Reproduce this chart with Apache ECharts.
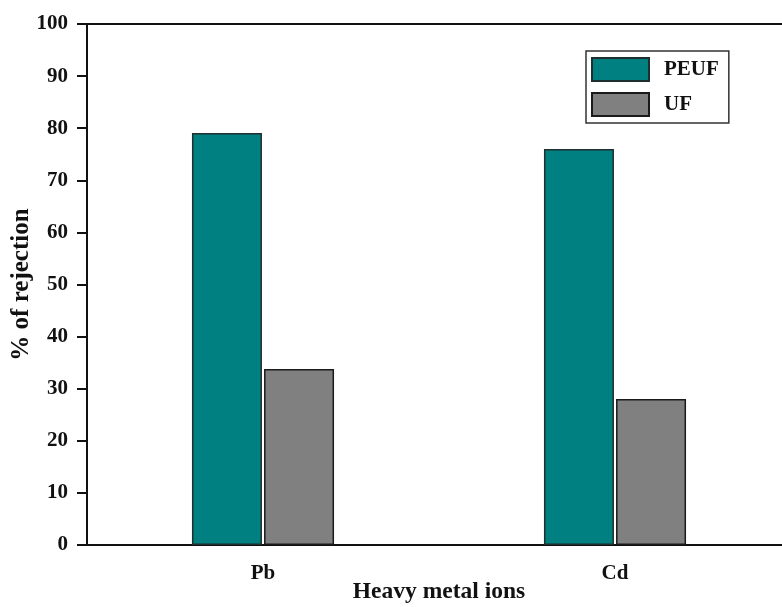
<!DOCTYPE html>
<html><head><meta charset="utf-8">
<script src="https://cdn.jsdelivr.net/npm/echarts@6/dist/echarts.min.js"></script>
<style>html,body{margin:0;padding:0;background:#fff}#c{width:782px;height:607px}</style>
</head><body><div id="c"></div>
<script>
const categories = ['Pb', 'Cd'];
const peuf = [79.1, 76.0];
const uf = [33.8, 28.0];
const yTicks = [0, 10, 20, 30, 40, 50, 60, 70, 80, 90, 100];

const font = 'Liberation Serif';
const chart = echarts.init(document.getElementById('c'));
chart.setOption({
  animation: false,
  backgroundColor: '#fff',
  grid: { left: 87, right: -9, top: 24, bottom: 62, containLabel: false, outerBoundsMode: 'none',
    show: true, borderColor: '#111', borderWidth: 2, backgroundColor: 'transparent' },
  legend: {
    orient: 'vertical', left: 586, top: 51,
    padding: [6, 10, 6, 5], itemGap: 10,
    itemWidth: 57, itemHeight: 23,
    borderColor: '#333', borderWidth: 1.5,
    icon: 'rect',
    textStyle: { fontFamily: font, fontWeight: 'bold', fontSize: 21, color: '#111', padding: [0, 0, 0, 10] },
    data: ['PEUF', 'UF']
  },
  xAxis: {
    type: 'category', data: categories,
    name: 'Heavy metal ions', nameLocation: 'middle', nameGap: 35, nameMoveOverlap: false,
    nameTextStyle: { fontFamily: font, fontWeight: 'bold', fontSize: 23.5, color: '#111' },
    axisLine: { lineStyle: { color: '#111', width: 2 } },
    axisTick: { alignWithLabel: true, length: 10, lineStyle: { color: '#111', width: 2 } },
    axisLabel: { fontFamily: font, fontWeight: 'bold', fontSize: 21, color: '#111', margin: 18 }
  },
  yAxis: {
    type: 'value', min: 0, max: 100, interval: 10,
    name: '% of rejection', nameLocation: 'middle', nameGap: 53, nameMoveOverlap: false,
    nameTextStyle: { fontFamily: font, fontWeight: 'bold', fontSize: 25, color: '#111' },
    axisLine: { show: true, lineStyle: { color: '#111', width: 2 } },
    axisTick: { show: true, length: 10, lineStyle: { color: '#111', width: 2 } },
    splitLine: { show: false },
    axisLabel: { fontFamily: font, fontWeight: 'bold', fontSize: 21, color: '#111', margin: 19,
      formatter: v => yTicks.includes(v) ? String(v) : '' }
  },
  series: [
    { name: 'PEUF', type: 'bar', data: peuf, barWidth: 70, barGap: '3%',
      itemStyle: { color: '#008080', borderColor: '#1f2f2f', borderWidth: 1.5 } },
    { name: 'UF', type: 'bar', data: uf, barWidth: 70,
      itemStyle: { color: '#808080', borderColor: '#1a1a1a', borderWidth: 1.5 } }
  ]
});
</script></body></html>
